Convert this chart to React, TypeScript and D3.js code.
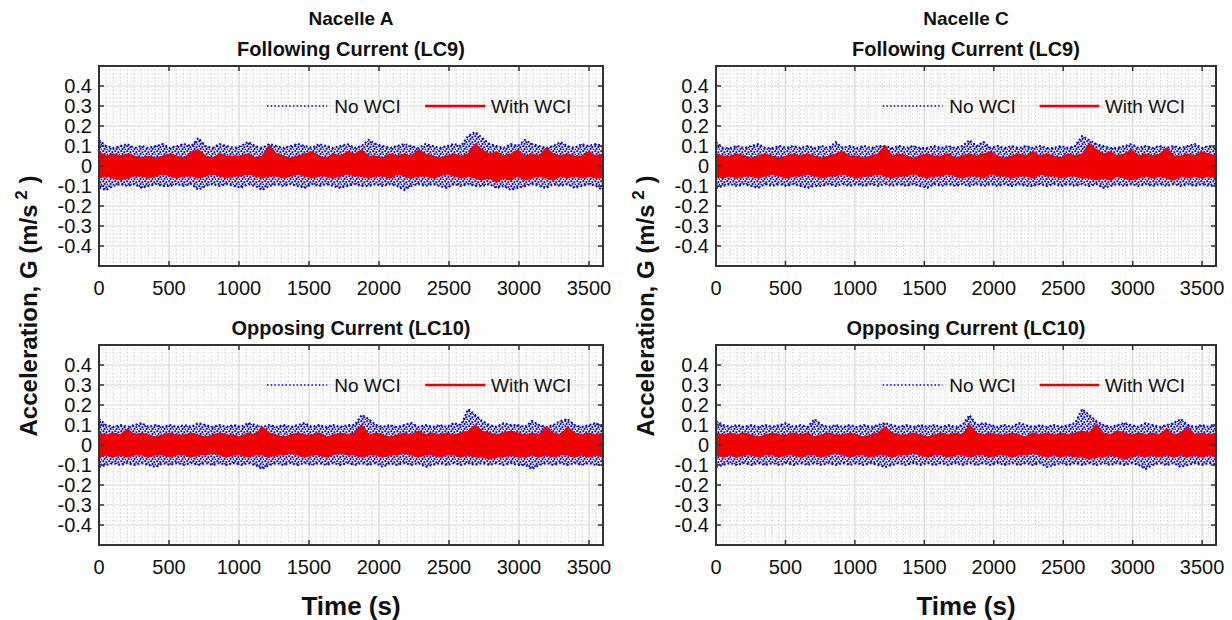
import React from 'react';
import * as d3 from 'd3';

// ---- axis / tick definitions ----
const X_DOMAIN = [0, 3600];
const Y_DOMAIN = [-0.5, 0.5];
const X_TICKS = [0, 500, 1000, 1500, 2000, 2500, 3000, 3500];
const Y_TICKS = [-0.4, -0.3, -0.2, -0.1, 0, 0.1, 0.2, 0.3, 0.4];
const Y_TICK_LABELS = ['-0.4', '-0.3', '-0.2', '-0.1', '0', '0.1', '0.2', '0.3', '0.4'];
const X_MINOR_STEP = 50;
const Y_MINOR_STEP = 0.02;
const UNIT = 0.01; // values below are in hundredths of m/s^2: max / min per 50 s window

// ---- Nacelle A, Following Current (LC9) ----
const redHiA9 = [7,5,6,5,6,5,4,5,4,5,6,5, 4,7,8,5,4,6,5,5,5,6,4,5, 10,6,5,4,5,6,7,5,4,6,5,7, 6,8,5,5,4,6,5,6,5,8,6,5, 4,5,6,5,6,11,8,6,7,5,6,8, 5,6,5,9,6,5,6,5,5,7,5,6];
const redLoA9 = [-6,-5,-6,-7,-6,-5,-5,-6,-5,-4,-5,-6, -5,-5,-6,-5,-4,-5,-6,-5,-5,-4,-5,-6, -5,-5,-6,-5,-4,-5,-6,-5,-5,-6,-5,-4, -5,-5,-6,-5,-5,-6,-4,-5,-6,-5,-5,-6, -5,-4,-5,-6,-5,-6,-7,-6,-8,-6,-7,-5, -7,-6,-5,-6,-7,-5,-6,-5,-6,-5,-6,-6];
const blueHiA9 = [13,10,9,10,11,9,10,9,10,11,9,10, 11,10,14,10,9,11,10,9,10,12,10,9, 11,10,9,10,11,10,9,11,10,9,10,11, 9,10,13,11,10,9,10,11,10,9,11,10, 9,10,11,10,15,17,14,11,10,9,11,10, 13,11,10,9,10,12,10,9,11,10,11,10];
const blueLoA9 = [-11,-12,-10,-9,-10,-9,-11,-10,-9,-10,-10,-9, -10,-9,-12,-10,-9,-10,-9,-10,-11,-9,-10,-12, -10,-9,-10,-9,-10,-11,-9,-10,-9,-10,-11,-10, -9,-10,-10,-9,-10,-9,-10,-12,-10,-9,-10,-9, -10,-11,-9,-10,-9,-10,-10,-9,-11,-10,-12,-11, -10,-9,-10,-11,-9,-10,-9,-11,-10,-9,-10,-12];

// ---- Nacelle C, Following Current (LC9) ----
const redHiC9 = [6,5,5,6,5,4,5,6,5,4,5,6, 5,6,5,4,5,6,7,5,5,4,5,6, 10,5,6,5,4,5,6,5,5,6,4,5, 6,5,6,7,5,4,5,6,5,7,5,6, 5,4,6,5,6,11,8,6,7,5,6,8, 5,6,5,6,9,5,5,6,5,7,6,5];
const redLoC9 = [-5,-6,-5,-6,-5,-5,-6,-5,-4,-5,-6,-5, -5,-4,-5,-6,-5,-5,-4,-5,-6,-5,-5,-4, -5,-6,-5,-5,-4,-5,-6,-5,-5,-4,-5,-6, -5,-5,-6,-4,-5,-5,-6,-5,-5,-6,-4,-5, -5,-6,-5,-5,-6,-6,-7,-6,-7,-5,-6,-7, -6,-5,-6,-5,-6,-7,-5,-6,-5,-6,-5,-6];
const blueHiC9 = [12,9,9,10,9,10,11,9,9,10,9,10, 9,10,9,10,9,12,9,10,9,10,9,10, 10,9,10,9,10,9,9,10,9,10,9,10, 13,10,12,9,10,9,10,9,10,9,10,9, 9,10,9,10,15,13,11,10,9,9,10,11, 9,10,9,10,9,10,9,10,11,9,10,9];
const blueLoC9 = [-11,-10,-9,-10,-9,-10,-11,-9,-10,-9,-10,-9, -10,-11,-10,-10,-9,-10,-9,-10,-9,-10,-9,-10, -9,-10,-9,-10,-9,-10,-11,-9,-10,-9,-10,-9, -10,-9,-10,-9,-10,-9,-10,-9,-10,-10,-9,-10, -9,-10,-9,-10,-9,-10,-9,-11,-10,-9,-10,-9, -10,-9,-10,-9,-10,-9,-10,-9,-10,-9,-10,-9];

// ---- Nacelle A, Opposing Current (LC10) ----
const redHiA10 = [6,5,6,5,8,5,6,5,4,5,6,5, 5,6,5,4,5,6,5,5,4,6,5,9, 6,5,4,5,6,5,5,6,4,5,6,5, 6,10,5,6,5,4,5,6,5,7,5,6, 5,6,5,6,7,10,7,6,5,6,7,6, 5,6,5,9,6,5,9,6,5,6,5,6];
const redLoA10 = [-6,-5,-6,-5,-6,-5,-5,-6,-5,-5,-6,-5, -5,-6,-5,-5,-4,-5,-6,-5,-5,-6,-5,-5, -6,-5,-5,-4,-5,-6,-5,-5,-6,-5,-4,-5, -5,-6,-5,-5,-6,-5,-5,-4,-5,-6,-5,-5, -6,-5,-5,-6,-5,-6,-6,-7,-6,-6,-5,-6, -6,-5,-6,-5,-6,-5,-5,-6,-5,-6,-5,-6];
const blueHiA10 = [13,10,9,10,9,10,11,9,10,9,10,9, 10,9,11,10,9,10,9,10,9,11,10,9, 10,9,10,9,10,11,9,10,9,10,9,10, 10,15,13,10,9,10,9,10,11,9,10,9, 10,9,11,10,18,15,12,10,9,11,10,10, 9,12,10,9,10,12,13,10,9,10,11,9];
const blueLoA10 = [-11,-10,-9,-10,-9,-10,-9,-10,-11,-9,-10,-9, -10,-9,-10,-9,-10,-9,-10,-9,-10,-9,-10,-12, -10,-9,-10,-9,-10,-9,-10,-9,-10,-9,-10,-9, -10,-9,-10,-9,-11,-9,-10,-9,-10,-9,-11,-10, -9,-10,-9,-10,-9,-10,-9,-10,-9,-10,-9,-10, -10,-12,-10,-9,-10,-9,-10,-9,-10,-9,-10,-10];

// ---- Nacelle C, Opposing Current (LC10) ----
const redHiC10 = [6,5,6,5,6,5,4,5,6,5,5,6, 5,6,4,5,6,5,5,6,5,4,5,6, 9,6,5,5,6,5,4,5,6,5,6,5, 10,6,5,6,5,5,6,5,4,6,5,6, 5,6,5,6,7,6,10,6,5,7,6,5, 6,5,6,5,8,5,6,9,5,6,5,6];
const redLoC10 = [-5,-6,-5,-6,-5,-5,-6,-5,-5,-6,-5,-5, -6,-5,-5,-6,-5,-4,-5,-6,-5,-5,-6,-5, -5,-6,-5,-5,-4,-5,-6,-5,-5,-6,-5,-5, -6,-5,-5,-6,-5,-5,-6,-5,-5,-4,-5,-6, -5,-6,-5,-6,-6,-7,-6,-6,-5,-6,-7,-6, -5,-6,-5,-6,-5,-6,-5,-6,-5,-6,-5,-6];
const blueHiC10 = [12,10,9,10,9,10,9,10,9,10,11,9, 10,9,13,10,9,10,9,10,9,10,9,10, 11,10,9,10,9,10,9,10,9,10,9,10, 15,10,11,10,9,10,9,11,10,9,10,9, 10,9,10,11,18,15,12,10,9,10,11,10, 9,11,10,9,10,11,13,10,9,10,9,10];
const blueLoC10 = [-11,-10,-9,-10,-9,-10,-9,-10,-9,-10,-9,-10, -9,-10,-9,-10,-9,-10,-9,-10,-9,-10,-9,-10, -11,-10,-9,-10,-9,-10,-9,-10,-9,-10,-9,-10, -9,-10,-9,-10,-9,-10,-9,-10,-9,-10,-9,-11, -10,-9,-10,-9,-10,-9,-10,-9,-10,-9,-10,-9, -10,-12,-10,-9,-10,-9,-11,-10,-9,-10,-9,-10];

const BLUE = '#0606c8';
const RED = '#ee0000';
const FONT = '"Liberation Sans", Arial, sans-serif';

type Env = { t: number; hi: number; lo: number };

function envelope(hi: number[], lo: number[]): Env[] {
  const n = hi.length;
  return hi.map((h, i) => ({ t: (i * X_DOMAIN[1]) / (n - 1), hi: h * UNIT, lo: lo[i] * UNIT }));
}

type PanelProps = {
  id: string; left: number; top: number; width: number; height: number;
  blueHi: number[]; blueLo: number[]; redHi: number[]; redLo: number[];
};

function Panel({ id, left, top, width, height, blueHi, blueLo, redHi, redLo }: PanelProps) {
  const x = d3.scaleLinear().domain(X_DOMAIN).range([left, left + width]);
  const y = d3.scaleLinear().domain(Y_DOMAIN).range([top + height, top]);
  const area = d3.area<Env>().x(d => x(d.t)).y0(d => y(d.lo)).y1(d => y(d.hi));
  const hiLine = d3.line<Env>().x(d => x(d.t)).y(d => y(d.hi));
  const loLine = d3.line<Env>().x(d => x(d.t)).y(d => y(d.lo));
  const blue = envelope(blueHi, blueLo);
  const red = envelope(redHi, redLo);
  const xMinor = d3.range(X_DOMAIN[0] + X_MINOR_STEP, X_DOMAIN[1], X_MINOR_STEP).filter(v => v % 500 !== 0);
  const yMinor = d3.range(-0.48, 0.49, Y_MINOR_STEP).filter(v => Math.abs(Math.round(v * 100)) % 10 !== 0);
  const tick = 5;
  const right = left + width, bottom = top + height;
  return (
    <g>
      <defs>
        <clipPath id={id}>
          <rect x={left} y={top} width={width} height={height} />
        </clipPath>
      </defs>
      <rect x={left} y={top} width={width} height={height} fill="#fff" />
      {xMinor.map(v => (
        <line key={'xm' + v} x1={x(v)} x2={x(v)} y1={top} y2={bottom} stroke="#bcbcbc" strokeWidth={0.8} strokeDasharray="1,2.5" />
      ))}
      {yMinor.map(v => (
        <line key={'ym' + v.toFixed(2)} x1={left} x2={right} y1={y(v)} y2={y(v)} stroke="#bcbcbc" strokeWidth={0.8} strokeDasharray="1,2.5" />
      ))}
      {X_TICKS.map(v => (
        <line key={'xg' + v} x1={x(v)} x2={x(v)} y1={top} y2={bottom} stroke="#d8d8d8" strokeWidth={1.2} />
      ))}
      {Y_TICKS.map(v => (
        <line key={'yg' + v} x1={left} x2={right} y1={y(v)} y2={y(v)} stroke="#d8d8d8" strokeWidth={1.2} />
      ))}
      <g clipPath={`url(#${id})`}>
        <path d={area(blue) || ''} fill="url(#blueDots)" stroke="none" />
        <path d={hiLine(blue) || ''} fill="none" stroke={BLUE} strokeWidth={2} strokeDasharray="1.8,2.2" />
        <path d={loLine(blue) || ''} fill="none" stroke={BLUE} strokeWidth={2} strokeDasharray="1.8,2.2" />
        <path d={area(red) || ''} fill={RED} stroke={RED} strokeWidth={1.2} strokeLinejoin="miter" />
      </g>
      {/* legend */}
      <line x1={x(1200)} x2={x(1630)} y1={y(0.3)} y2={y(0.3)} stroke={BLUE} strokeWidth={1.5} strokeDasharray="1.5,2.2" />
      <text x={x(1680)} y={y(0.3) + 7} fontFamily={FONT} fontSize={19} fill="#111">No WCI</text>
      <line x1={x(2330)} x2={x(2760)} y1={y(0.3)} y2={y(0.3)} stroke={RED} strokeWidth={2.5} />
      <text x={x(2800)} y={y(0.3) + 7} fontFamily={FONT} fontSize={19} fill="#111">With WCI</text>
      {/* ticks */}
      {X_TICKS.map(v => (
        <g key={'xt' + v}>
          <line x1={x(v)} x2={x(v)} y1={bottom} y2={bottom - tick} stroke="#333" strokeWidth={1.5} />
          <line x1={x(v)} x2={x(v)} y1={top} y2={top + tick} stroke="#333" strokeWidth={1.5} />
          <text x={x(v)} y={bottom + 29} textAnchor="middle" fontFamily={FONT} fontSize={20} fill="#111">{v}</text>
        </g>
      ))}
      {Y_TICKS.map((v, i) => (
        <g key={'yt' + v}>
          <line x1={left} x2={left + tick} y1={y(v)} y2={y(v)} stroke="#333" strokeWidth={1.5} />
          <line x1={right} x2={right - tick} y1={y(v)} y2={y(v)} stroke="#333" strokeWidth={1.5} />
          <text x={left - 7} y={y(v) + 7} textAnchor="end" fontFamily={FONT} fontSize={20} fill="#111">{Y_TICK_LABELS[i]}</text>
        </g>
      ))}
      <rect x={left} y={top} width={width} height={height} fill="none" stroke="#333" strokeWidth={2} />
    </g>
  );
}

export default function App() {
  const cols = [{ left: 99, width: 504, name: 'Nacelle A' }, { left: 716, width: 500, name: 'Nacelle C' }];
  const rows = [{ top: 66, height: 200, title: 'Following Current (LC9)' }, { top: 345, height: 200, title: 'Opposing Current (LC10)' }];
  const data = [
    [[blueHiA9, blueLoA9, redHiA9, redLoA9], [blueHiA10, blueLoA10, redHiA10, redLoA10]],
    [[blueHiC9, blueLoC9, redHiC9, redLoC9], [blueHiC10, blueLoC10, redHiC10, redLoC10]],
  ];
  return (
    <svg width={1232} height={620} style={{ position: 'absolute', left: 0, top: 0, background: '#fff' }}>
      <defs>
        <pattern id="blueDots" width={6} height={5} patternUnits="userSpaceOnUse">
          <rect x={0.3} y={0.2} width={2} height={2} fill={BLUE} />
          <rect x={3.4} y={1.2} width={1.9} height={1.9} fill={BLUE} />
          <rect x={1.6} y={3} width={1.9} height={1.9} fill={BLUE} />
          <rect x={4.6} y={3.6} width={1.4} height={1.4} fill={BLUE} />
        </pattern>
      </defs>
      <rect x={0} y={0} width={1232} height={620} fill="#fff" />
      {cols.map((c, ci) => {
        const cx = c.left + c.width / 2;
        return (
          <g key={c.name}>
            <text x={cx} y={25} textAnchor="middle" fontFamily={FONT} fontWeight="bold" fontSize={19} fill="#111">{c.name}</text>
            {rows.map((r, ri) => {
              const [bh, bl, rh, rl] = data[ci][ri];
              return (
                <g key={r.title}>
                  <text x={cx} y={r.top - 10} textAnchor="middle" fontFamily={FONT} fontWeight="bold" fontSize={20} fill="#111">{r.title}</text>
                  <Panel id={`clip${ci}${ri}`} left={c.left} top={r.top} width={c.width} height={r.height}
                    blueHi={bh} blueLo={bl} redHi={rh} redLo={rl} />
                </g>
              );
            })}
            <text x={cx} y={615} textAnchor="middle" fontFamily={FONT} fontWeight="bold" fontSize={26} fill="#111">Time (s)</text>
            <text transform={`translate(${c.left - 62},306) rotate(-90)`} textAnchor="middle" fontFamily={FONT} fontWeight="bold" fontSize={24} fill="#111">
              Acceleration, G (m/s<tspan dy={-10} fontSize={17}> 2</tspan><tspan dy={10}> )</tspan>
            </text>
          </g>
        );
      })}
    </svg>
  );
}
